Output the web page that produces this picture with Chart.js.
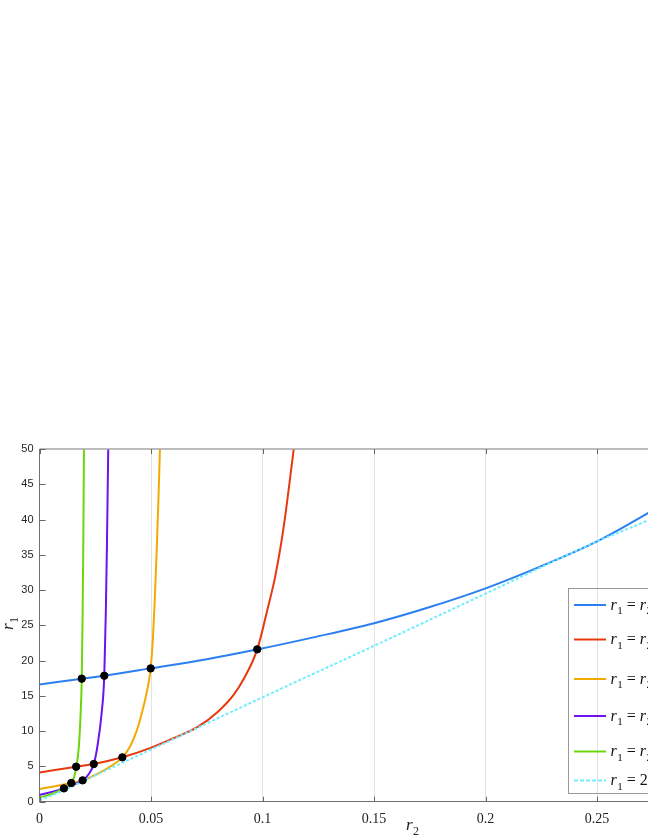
<!DOCTYPE html>
<html>
<head>
<meta charset="utf-8">
<script src="https://cdn.jsdelivr.net/npm/chart.js@4.4.1/dist/chart.umd.min.js"></script>
<style>
html, body { margin: 0; padding: 0; overflow: hidden; background: #fff; }
#wrap { position: absolute; left: 0; top: 0; width: 760px; height: 838px; }
</style>
</head>
<body>
<div id="wrap"><canvas id="chart"></canvas></div>
<script>
// tick labels
const xTicks = [0, 0.05, 0.1, 0.15, 0.2, 0.25, 0.3];
const yTicks = [0, 5, 10, 15, 20, 25, 30, 35, 40, 45, 50];

// curves (r2 -> r1)
const blueR2 = [0, 0.0189, 0.029, 0.0498, 0.075, 0.0979, 0.1243, 0.15, 0.175, 0.2, 0.225, 0.25, 0.2728, 0.3];
const blueR1 = [16.6, 17.44, 17.86, 18.9, 20.2, 21.6, 23.4, 25.3, 27.6, 30.25, 33.4, 36.9, 40.9, 46];

const redR2 = [0, 0.0164, 0.0243, 0.0371, 0.0495, 0.06, 0.0709, 0.0801, 0.0869, 0.0917, 0.0976, 0.1019, 0.1055, 0.1082, 0.1104, 0.1123, 0.1142, 0.117];
const redR1 = [4.15, 4.96, 5.34, 6.29, 7.6, 9.0, 10.6, 12.8, 15.1, 17.5, 21.6, 26.9, 31.7, 36.4, 41.1, 45.8, 50.6, 58];

const orangeR2 = [0, 0.007, 0.0142, 0.0193, 0.025, 0.031, 0.0371, 0.0405, 0.0435, 0.0458, 0.0477, 0.0491, 0.0498, 0.0507, 0.0514, 0.052, 0.0526, 0.0533, 0.054, 0.0547];
const orangeR1 = [1.8, 2.2, 2.65, 3.03, 3.8, 4.85, 6.29, 7.8, 10, 12.5, 15, 17.25, 18.9, 22.5, 26.9, 31.5, 36.4, 43, 50.3, 58];

const purpleR2 = [0, 0.005, 0.0109, 0.015, 0.0193, 0.022, 0.0243, 0.0259, 0.0278, 0.029, 0.0297, 0.0302, 0.0308, 0.0312];
const purpleR1 = [0.95, 1.35, 1.89, 2.4, 3.03, 3.9, 5.34, 7.8, 12.5, 17.86, 26.9, 36.4, 50.3, 58];

const greenR2 = [0, 0.0055, 0.0109, 0.0142, 0.0155, 0.0165, 0.0176, 0.0184, 0.0189, 0.0193, 0.0196, 0.0199, 0.0202];
const greenR1 = [0.6, 1.1, 1.89, 2.65, 3.5, 4.96, 7.8, 12.5, 17.44, 26.9, 36.4, 50.3, 58];

const cyanR2 = [0, 0.01, 0.02, 0.05, 0.1, 0.15, 0.2, 0.25, 0.2728, 0.3];
const cyanR1 = [0.2, 1.5, 3.0, 7.4, 14.8, 22.1, 29.5, 36.9, 39.9, 44.2];

// intersection points
const dotR2 = [0.0189, 0.029, 0.0498, 0.0976, 0.0164, 0.0243, 0.0371, 0.0142, 0.0193, 0.0109];
const dotR1 = [17.44, 17.86, 18.9, 21.6, 4.96, 5.34, 6.29, 2.65, 3.03, 1.89];

const legendLabels = ['r_1 = r_2 a_1', 'r_1 = r_2 a_2', 'r_1 = r_2 a_3', 'r_1 = r_2 a_4', 'r_1 = r_2 a_5', 'r_1 = 2 r_2'];
const legendColors = ['#2b7ff0', '#e8380d', '#f2aa00', '#6a12f0', '#6cd60a', '#72ecff'];

function pts(xs, ys) {
    return xs.map((x, i) => ({x: x, y: ys[i]}));
}

function curve(label, xs, ys, color, dash) {
    return {
        label: label,
        data: pts(xs, ys),
        borderColor: color,
        backgroundColor: color,
        borderWidth: 2,
        borderDash: dash || [],
        pointRadius: 0,
        fill: false,
        cubicInterpolationMode: 'monotone',
    };
}

// italic letter with subscript, plain text otherwise
function drawMath(ctx, str, x, y, size) {
    let cx = x;
    str.split(' ').forEach((tok, i) => {
        if (i > 0) cx += size * 0.25;
        const m = tok.match(/^([a-z])_(\w)$/);
        if (m) {
            ctx.font = 'italic ' + size + 'px "Liberation Serif"';
            ctx.fillText(m[1], cx, y);
            cx += ctx.measureText(m[1]).width + 0.5;
            ctx.font = Math.round(size * 0.7) + 'px "Liberation Serif"';
            ctx.fillText(m[2], cx, y + size * 0.3);
            cx += ctx.measureText(m[2]).width;
        } else {
            ctx.font = size + 'px "Liberation Serif"';
            ctx.fillText(tok, cx, y);
            cx += ctx.measureText(tok).width;
        }
    });
}

const decor = {
    id: 'decor',
    afterDatasetsDraw(chart) {
        const ctx = chart.ctx;
        const a = chart.chartArea;
        const xs = chart.scales.x, ys = chart.scales.y;
        ctx.save();
        // box
        ctx.strokeStyle = '#a6a6a6';
        ctx.lineWidth = 1.5;
        ctx.beginPath();
        ctx.moveTo(a.left, a.top);
        ctx.lineTo(a.right, a.top);
        ctx.lineTo(a.right, a.bottom);
        ctx.stroke();
        // inward ticks
        ctx.strokeStyle = '#666';
        ctx.lineWidth = 1;
        ctx.beginPath();
        xTicks.forEach(v => {
            const px = Math.round(xs.getPixelForValue(v)) + 0.5;
            ctx.moveTo(px, a.bottom); ctx.lineTo(px, a.bottom - 5);
            ctx.moveTo(px, a.top); ctx.lineTo(px, a.top + 5);
        });
        yTicks.forEach(v => {
            const py = Math.round(ys.getPixelForValue(v)) + 0.5;
            ctx.moveTo(a.left, py); ctx.lineTo(a.left + 6, py);
            ctx.moveTo(a.right, py); ctx.lineTo(a.right - 6, py);
        });
        ctx.stroke();

        // legend
        const lx = 568.5, ly = 588.5;
        ctx.strokeStyle = '#9a9a9a';
        ctx.lineWidth = 1;
        ctx.strokeRect(lx, ly, 220, 205);
        const rowY = [605, 639.5, 679, 716, 751.5, 780.5];
        ctx.fillStyle = '#111';
        ctx.textBaseline = 'alphabetic';
        legendLabels.forEach((lab, i) => {
            ctx.strokeStyle = legendColors[i];
            ctx.lineWidth = 2;
            ctx.setLineDash(i === 5 ? [4, 2] : []);
            ctx.beginPath();
            ctx.moveTo(574, rowY[i]);
            ctx.lineTo(606, rowY[i]);
            ctx.stroke();
            ctx.setLineDash([]);
            drawMath(ctx, lab, 610.5, rowY[i] + 4.5, 16);
        });

        // axis titles
        ctx.fillStyle = '#222';
        drawMath(ctx, 'r_2', 406, 830, 17);
        ctx.translate(13, 630);
        ctx.rotate(-Math.PI / 2);
        drawMath(ctx, 'r_1', 0, 0, 17);
        ctx.restore();
    }
};

new Chart(document.getElementById('chart'), {
    type: 'line',
    data: {
        datasets: [
            {
                label: 'points',
                data: pts(dotR2, dotR1),
                showLine: false,
                pointRadius: 3.7,
                pointBorderWidth: 1,
                pointBackgroundColor: '#000',
                pointBorderColor: '#000',
            },
            curve('cyan', cyanR2, cyanR1, legendColors[5], [3, 2]),
            curve('green', greenR2, greenR1, legendColors[4]),
            curve('purple', purpleR2, purpleR1, legendColors[3]),
            curve('orange', orangeR2, orangeR1, legendColors[2]),
            curve('red', redR2, redR1, legendColors[1]),
            curve('blue', blueR2, blueR1, legendColors[0]),
        ]
    },
    options: {
        responsive: true,
        maintainAspectRatio: false,
        devicePixelRatio: 1,
        animation: false,
        layout: {
            padding: {top: 449, right: 51.4, bottom: 0, left: 0}
        },
        plugins: {
            legend: {display: false},
            tooltip: {enabled: false},
        },
        scales: {
            x: {
                type: 'linear',
                min: 0,
                max: 0.3,
                afterBuildTicks: s => { s.ticks = xTicks.map(v => ({value: v})); },
                afterFit: s => { s.height = 36.3; },
                ticks: {
                    padding: 9,
                    color: '#222',
                    font: {family: '"Liberation Serif"', size: 14},
                    callback: v => String(+v.toFixed(2)),
                    maxRotation: 0,
                },
                grid: {
                    color: '#e3e3e3',
                    lineWidth: 1,
                    drawTicks: false,
                },
                border: {display: true, color: '#707070', width: 1},
            },
            y: {
                type: 'linear',
                min: 0,
                max: 50,
                afterBuildTicks: s => { s.ticks = yTicks.map(v => ({value: v})); },
                afterFit: s => { s.width = 39.6; },
                ticks: {
                    padding: 6,
                    color: '#262626',
                    font: {family: '"Liberation Sans"', size: 11},
                },
                grid: {
                    drawOnChartArea: false,
                    drawTicks: false,
                },
                border: {display: true, color: '#707070', width: 1},
            }
        }
    },
    plugins: [decor]
});
</script>
</body>
</html>
